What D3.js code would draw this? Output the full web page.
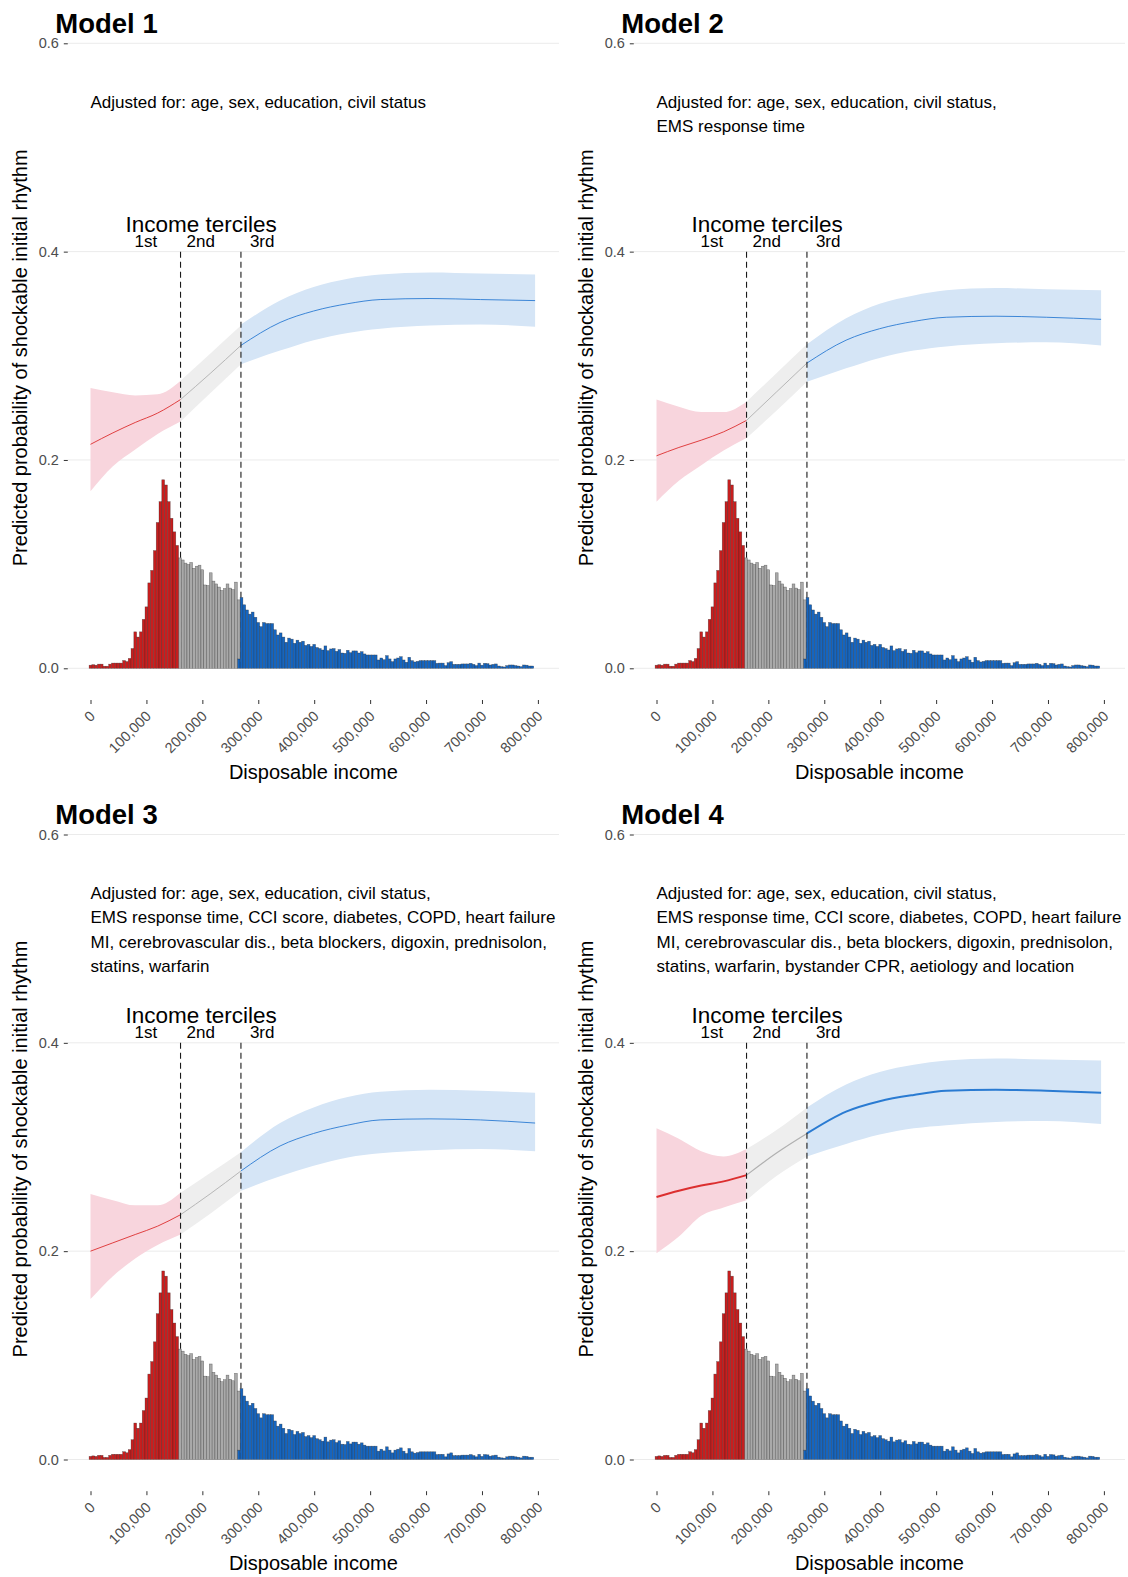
<!DOCTYPE html>
<html>
<head>
<meta charset="utf-8">
<script src="https://cdn.jsdelivr.net/npm/d3@7"></script>
<style>
body { margin: 0; background: #fff; }
svg { display: block; font-family: "Liberation Sans", Arial, sans-serif; }
</style>
</head>
<body>
<svg id="chart" width="1128" height="1577"></svg>
<script>
// histogram of disposable income, bins of 5000 centred on multiples of 5000
var binWidth = 5000;
var histRed = [0.003, 0.0035, 0.003, 0.004, 0.004, 0.002, 0.002, 0.004, 0.005, 0.005, 0.005, 0.005, 0.0075, 0.0065, 0.0095,
    0.019, 0.035, 0.030, 0.035, 0.047, 0.059, 0.082, 0.094, 0.113, 0.140, 0.160, 0.181, 0.176, 0.160, 0.144, 0.131, 0.118];
var grayStartBin = 32;
var histGray = [0.106, 0.104, 0.101, 0.0997, 0.1016, 0.096, 0.098, 0.099, 0.0946, 0.080, 0.0795, 0.0917, 0.0837, 0.081,
    0.078, 0.0747, 0.0766, 0.081, 0.077, 0.0756, 0.0827, 0.0567];
var blueStartBin = 53;
var histBlue = [0.009,
    0.068, 0.061, 0.056, 0.052, 0.054, 0.049, 0.044, 0.040, 0.044, 0.043, 0.043, 0.043, 0.037, 0.032, 0.034, 0.030, 0.025, 0.029, 0.028, 0.024,
    0.027, 0.025, 0.026, 0.022, 0.023, 0.021, 0.023,
    0.020, 0.019, 0.0176, 0.0215, 0.017, 0.0186, 0.019, 0.0163, 0.018, 0.0147, 0.0144, 0.0173, 0.015, 0.0167, 0.0167, 0.0147, 0.016, 0.0138, 0.0128, 0.0128, 0.0128, 0.0128,
    0.008, 0.0099, 0.0083, 0.0122, 0.009, 0.0064, 0.009, 0.0099, 0.0112, 0.008, 0.0058, 0.0106, 0.0074, 0.0061, 0.0067, 0.0074, 0.0074, 0.0074, 0.0074,
    0.0074, 0.0074, 0.0048, 0.005, 0.005, 0.0026, 0.0054, 0.0064, 0.0038, 0.0038, 0.0038, 0.0042, 0.0042, 0.0042, 0.0048, 0.0038, 0.0026, 0.005,
    0.003, 0.0048, 0.0045, 0.0032, 0.0038, 0.0042, 0.0022, 0.0016, 0.0013, 0.0026, 0.0032, 0.0032, 0.0026, 0.0022, 0.0016, 0.0032, 0.003, 0.0022, 0.0022];

var tercileCuts = [161000, 269000];
var tercileLabels = ['1st', '2nd', '3rd'];
var tercileLabelX = [99000, 197000, 307000];
var tercileTitleX = 198000;

var xTicks = [0, 100000, 200000, 300000, 400000, 500000, 600000, 700000, 800000];
var yTicks = [0, 0.2, 0.4, 0.6];

var models = ['Model 1', 'Model 2', 'Model 3', 'Model 4'];
var adjustedFor = [
    ['Adjusted for: age, sex, education, civil status'],
    ['Adjusted for: age, sex, education, civil status,', 'EMS response time'],
    ['Adjusted for: age, sex, education, civil status,', 'EMS response time, CCI score, diabetes, COPD, heart failure',
     'MI, cerebrovascular dis., beta blockers, digoxin, prednisolon,', 'statins, warfarin'],
    ['Adjusted for: age, sex, education, civil status,', 'EMS response time, CCI score, diabetes, COPD, heart failure',
     'MI, cerebrovascular dis., beta blockers, digoxin, prednisolon,', 'statins, warfarin, bystander CPR, aetiology and location']
];

// predicted probability per tercile segment: [estimate, lower, upper]
var redIncome = [0, 40000, 80000, 120000, 161000];
var grayIncome = [161000, 214000, 269000];
var blueIncome = [269000, 339000, 399000, 460000, 518000, 607000, 697000, 795000];

var m1Red = [[0.215, 0.170, 0.269], [0.226, 0.194, 0.265], [0.236, 0.210, 0.262], [0.245, 0.225, 0.263], [0.258, 0.237, 0.276]];
var m1Gray = [[0.258, 0.237, 0.276], [0.283, 0.264, 0.302], [0.310, 0.292, 0.329]];
var m1Blue = [[0.310, 0.292, 0.330], [0.332, 0.305, 0.353], [0.343, 0.315, 0.366], [0.350, 0.322, 0.374],
    [0.354, 0.326, 0.378], [0.355, 0.329, 0.380], [0.354, 0.330, 0.379], [0.353, 0.328, 0.378]];

var m2Red = [[0.204, 0.160, 0.258], [0.212, 0.180, 0.251], [0.219, 0.195, 0.246], [0.227, 0.209, 0.246], [0.238, 0.221, 0.256]];
var m2Gray = [[0.238, 0.221, 0.256], [0.265, 0.247, 0.283], [0.293, 0.275, 0.311]];
var m2Blue = [[0.293, 0.275, 0.311], [0.315, 0.288, 0.336], [0.326, 0.298, 0.350], [0.333, 0.305, 0.358],
    [0.337, 0.309, 0.363], [0.338, 0.312, 0.365], [0.337, 0.313, 0.364], [0.335, 0.310, 0.363]];

var m3Red = [[0.200, 0.154, 0.255], [0.208, 0.176, 0.249], [0.216, 0.193, 0.244], [0.224, 0.206, 0.244], [0.235, 0.216, 0.256]];
var m3Gray = [[0.235, 0.216, 0.256], [0.255, 0.236, 0.275], [0.277, 0.258, 0.295]];
var m3Blue = [[0.277, 0.258, 0.295], [0.301, 0.272, 0.323], [0.313, 0.282, 0.338], [0.321, 0.290, 0.348],
    [0.326, 0.294, 0.353], [0.327, 0.297, 0.355], [0.326, 0.298, 0.354], [0.323, 0.296, 0.352]];

var m4Red = [[0.252, 0.198, 0.318], [0.258, 0.214, 0.308], [0.263, 0.234, 0.296], [0.267, 0.242, 0.291], [0.273, 0.249, 0.298]];
var m4Gray = [[0.273, 0.249, 0.298], [0.294, 0.272, 0.316], [0.313, 0.291, 0.338]];
var m4Blue = [[0.313, 0.291, 0.338], [0.334, 0.303, 0.360], [0.344, 0.312, 0.372], [0.350, 0.318, 0.379],
    [0.354, 0.321, 0.383], [0.355, 0.324, 0.385], [0.354, 0.325, 0.384], [0.352, 0.322, 0.383]];

var modelCurves = [[m1Red, m1Gray, m1Blue], [m2Red, m2Gray, m2Blue], [m3Red, m3Gray, m3Blue], [m4Red, m4Gray, m4Blue]];
var lineWidths = [0.9, 0.9, 0.9, 2];

var segIncome = [redIncome, grayIncome, blueIncome];
var ribbonColors = ['#f8d5dd', '#eeeeee', '#d5e5f6'];
var lineColors = ['#dc2f2f', '#b0b0b0', '#2a7bd2'];
var barColors = {red: '#c81e1e', gray: '#a9a9a9', blue: '#1565c0'};

// build histogram table
var nBins = blueStartBin + histBlue.length;
var hist = [];
for (var k = 0; k < nBins; k++) {
    hist.push({
        income: k * binWidth,
        red: k < histRed.length ? histRed[k] : 0,
        gray: (k >= grayStartBin && k < grayStartBin + histGray.length) ? histGray[k - grayStartBin] : 0,
        blue: k >= blueStartBin ? histBlue[k - blueStartBin] : 0
    });
}
var stacked = d3.stack().keys(['blue', 'gray', 'red'])(hist);

var svg = d3.select('#chart');
var x = d3.scaleLinear().domain([0, 800000]).range([90.5, 537.9]);
var y = d3.scaleLinear().domain([0, 0.6]).range([668.3, 43.3]);
var panelLeft = 67.8, panelRight = 559;
var font = '"Liberation Sans", Arial, sans-serif';

models.forEach(function(name, i) {
    var g = svg.append('g')
        .attr('transform', 'translate(' + ((i % 2) * 566) + ',' + (Math.floor(i / 2) * 791.2) + ')');

    g.selectAll('line.grid').data(yTicks).enter().append('line')
        .attr('x1', panelLeft).attr('x2', panelRight)
        .attr('y1', function(d) { return y(d); }).attr('y2', function(d) { return y(d); })
        .style('stroke', '#ebebeb').style('stroke-width', 1);

    // y axis
    var ya = g.append('g').attr('transform', 'translate(' + panelLeft + ',0)')
        .call(d3.axisLeft(y).tickValues(yTicks).tickFormat(d3.format('.1f')).tickSize(4).tickPadding(5));
    ya.select('.domain').remove();
    ya.selectAll('line').style('stroke', '#333');
    ya.selectAll('text').style('font-size', '14.5px').style('fill', '#4d4d4d').style('font-family', font);

    // x axis
    var xa = g.append('g').attr('transform', 'translate(0,700)')
        .call(d3.axisBottom(x).tickValues(xTicks).tickFormat(d3.format(',')).tickSize(4));
    xa.select('.domain').remove();
    xa.selectAll('line').style('stroke', '#333');
    xa.selectAll('text')
        .attr('x', 0).attr('y', 0).attr('dy', 0)
        .attr('transform', 'translate(5,17) rotate(-45)')
        .style('text-anchor', 'end')
        .style('font-size', '14.5px').style('fill', '#4d4d4d').style('font-family', font);

    // ribbons and lines per tercile
    modelCurves[i].forEach(function(seg, s) {
        var pts = seg.map(function(v, j) { return {income: segIncome[s][j], est: v[0], lo: v[1], hi: v[2]}; });
        g.append('path')
            .attr('d', d3.area().curve(d3.curveMonotoneX)
                .x(function(d) { return x(d.income); })
                .y0(function(d) { return y(d.lo); })
                .y1(function(d) { return y(d.hi); })(pts))
            .style('fill', ribbonColors[s]);
    });
    modelCurves[i].forEach(function(seg, s) {
        var pts = seg.map(function(v, j) { return {income: segIncome[s][j], est: v[0]}; });
        g.append('path')
            .attr('d', d3.line().curve(d3.curveMonotoneX)
                .x(function(d) { return x(d.income); })
                .y(function(d) { return y(d.est); })(pts))
            .style('fill', 'none')
            .style('stroke', lineColors[s])
            .style('stroke-width', s == 1 ? Math.min(lineWidths[i], 1.2) : lineWidths[i]);
    });

    // tercile cut lines
    g.selectAll('line.cut').data(tercileCuts).enter().append('line')
        .attr('x1', function(d) { return x(d); }).attr('x2', function(d) { return x(d); })
        .attr('y1', y(0.4)).attr('y2', y(0))
        .style('stroke', '#1a1a1a').style('stroke-width', 1.1).style('stroke-dasharray', '6,4');

    // histogram
    stacked.forEach(function(layer) {
        g.append('g').selectAll('rect').data(layer.filter(function(d) { return d[1] > d[0]; })).enter().append('rect')
            .attr('x', function(d) { return x(d.data.income - binWidth / 2); })
            .attr('width', function(d) { return x(d.data.income + binWidth / 2) - x(d.data.income - binWidth / 2); })
            .attr('y', function(d) { return y(d[1]); })
            .attr('height', function(d) { return y(d[0]) - y(d[1]); })
            .style('fill', barColors[layer.key])
            .style('stroke', '#222').style('stroke-opacity', 0.55).style('stroke-width', 0.5);
    });

    // texts
    g.append('text').attr('x', 55.3).attr('y', 33).text(name)
        .style('font-size', '27.5px').style('font-weight', 'bold');

    g.selectAll('text.adj').data(adjustedFor[i]).enter().append('text')
        .attr('x', x(0)).attr('y', function(d, j) { return 107.5 + j * 24.6; })
        .text(function(d) { return d; })
        .style('font-size', '17px');

    g.append('text').attr('x', x(tercileTitleX)).attr('y', y(0.4) - 19.5)
        .attr('text-anchor', 'middle').text('Income terciles').style('font-size', '22.5px');
    g.selectAll('text.terc').data(tercileLabels).enter().append('text')
        .attr('x', function(d, j) { return x(tercileLabelX[j]); }).attr('y', y(0.4) - 4.5)
        .attr('text-anchor', 'middle').text(function(d) { return d; }).style('font-size', '17px');

    g.append('text').attr('x', (panelLeft + panelRight) / 2).attr('y', 778.5)
        .attr('text-anchor', 'middle').text('Disposable income').style('font-size', '20px');
    g.append('text').attr('transform', 'translate(20,' + ((y(0) + y(0.6)) / 2 + 2) + ') rotate(-90)')
        .attr('text-anchor', 'middle').attr('dy', '0.35em')
        .text('Predicted probability of shockable initial rhythm').style('font-size', '20px');
});
</script>
</body>
</html>
